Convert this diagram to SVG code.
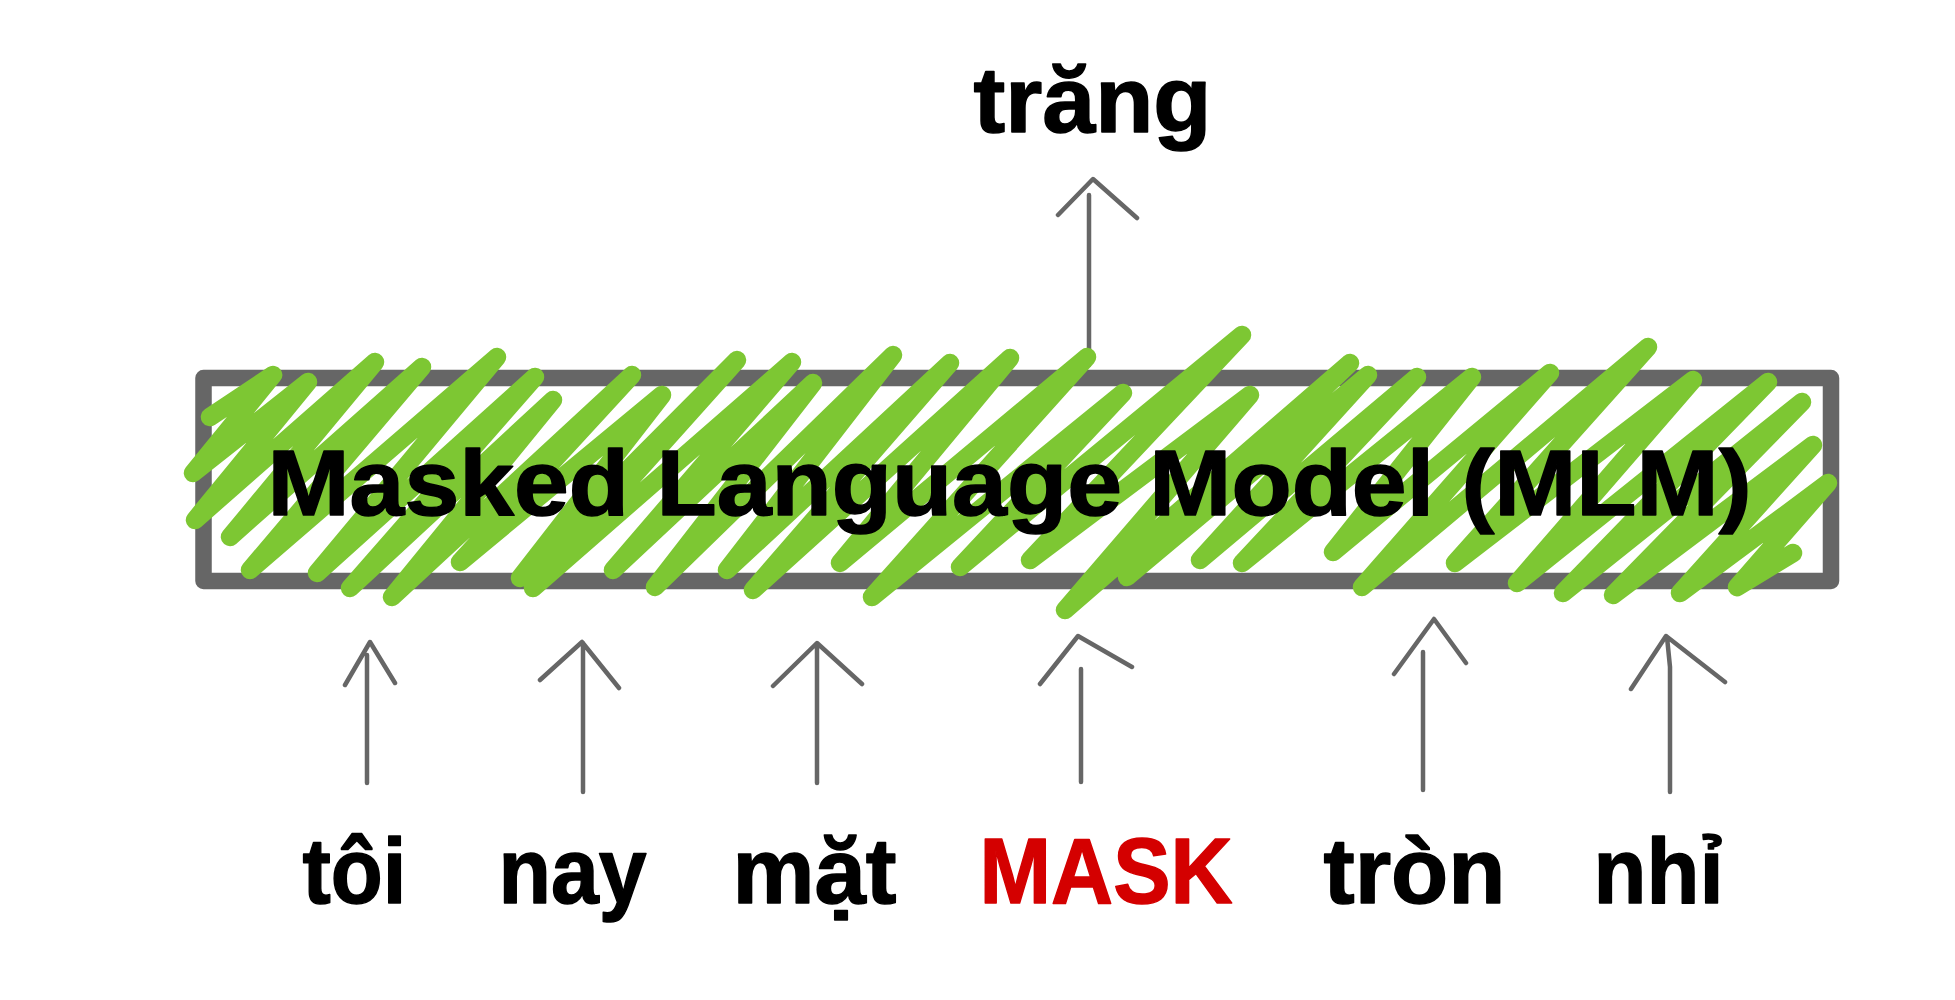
<svg xmlns="http://www.w3.org/2000/svg" width="1955" height="1000" viewBox="0 0 1955 1000">
<style>
.lbl{font-family:"Liberation Sans","DejaVu Sans",sans-serif;font-weight:bold;font-size:93px;fill:#000;stroke:#000;stroke-width:1.5;stroke-linejoin:round}
.mask{fill:#d40000;stroke:#d40000}
.conn{fill:none;stroke:#666;stroke-width:4.5;stroke-linecap:round;stroke-linejoin:round}
.box{fill:#fff;stroke:#666;stroke-width:16.5;stroke-linejoin:round}
.scribble{fill:none;stroke:#7dc733;stroke-width:18.5;stroke-linecap:round;stroke-linejoin:round}
</style>
<rect width="1955" height="1000" fill="#fff"/>
<g id="connectors">
  <path class="conn" d="M1089,195 L1089,365 M1058,215 L1093,179 L1137,218"/>
  <path class="conn" d="M367,655 L367,783 M345,685 L370,642 L395,683"/>
  <path class="conn" d="M583,643 L583,792 M540,680 L582,642 L619,688"/>
  <path class="conn" d="M817,645 L817,783 M773,686 L817,643 L862,684"/>
  <path class="conn" d="M1081,669 L1081,782 M1040,684 L1078,636 L1132,667"/>
  <path class="conn" d="M1423,652 L1423,790 M1394,674 L1434,619 L1466,663"/>
  <path class="conn" d="M1667,637 L1670,667 L1670,792 M1631,689 L1666,636 L1725,682"/>
</g>
<g id="mlm">
  <rect class="box" x="203.5" y="378" width="1627.5" height="203"/>
  <polyline class="scribble" points="210,417 273,375 193,473 308,382 195,520 375,362 230,537 422,367 250,570 497,357 317,573 535,377 350,588 553,400 392,597 632,375 460,562 662,395 520,578 737,360 533,588 792,362 613,570 813,383 655,587 893,355 727,570 950,363 753,590 1010,358 840,563 1087,357 872,597 1123,393 960,567 1242,335 1030,560 1250,395 1065,610 1350,363 1127,577 1368,375 1200,560 1417,377 1242,563 1472,377 1333,552 1550,373 1362,587 1648,347 1455,563 1693,380 1517,583 1768,382 1563,593 1802,402 1613,595 1813,445 1680,593 1828,483 1737,587 1793,553"/>
  <text class="lbl" x="267.5" y="515" textLength="1484" lengthAdjust="spacingAndGlyphs">Masked Language Model (MLM)</text>
</g>
<g id="out-trang"><text class="lbl" x="973.5" y="132" textLength="238" lengthAdjust="spacingAndGlyphs">trăng</text></g>
<g id="tok-toi"><text class="lbl" x="302.5" y="903" textLength="104" lengthAdjust="spacingAndGlyphs">tôi</text></g>
<g id="tok-nay"><text class="lbl" x="498.5" y="903" textLength="148" lengthAdjust="spacingAndGlyphs">nay</text></g>
<g id="tok-mat"><text class="lbl" x="732.5" y="903" textLength="164" lengthAdjust="spacingAndGlyphs">mặt</text></g>
<g id="tok-mask"><text class="lbl mask" x="979.5" y="903" textLength="253" lengthAdjust="spacingAndGlyphs">MASK</text></g>
<g id="tok-tron"><text class="lbl" x="1323.5" y="903" textLength="182" lengthAdjust="spacingAndGlyphs">tròn</text></g>
<g id="tok-nhi"><text class="lbl" x="1593.5" y="903" textLength="130" lengthAdjust="spacingAndGlyphs">nhỉ</text></g>
</svg>
